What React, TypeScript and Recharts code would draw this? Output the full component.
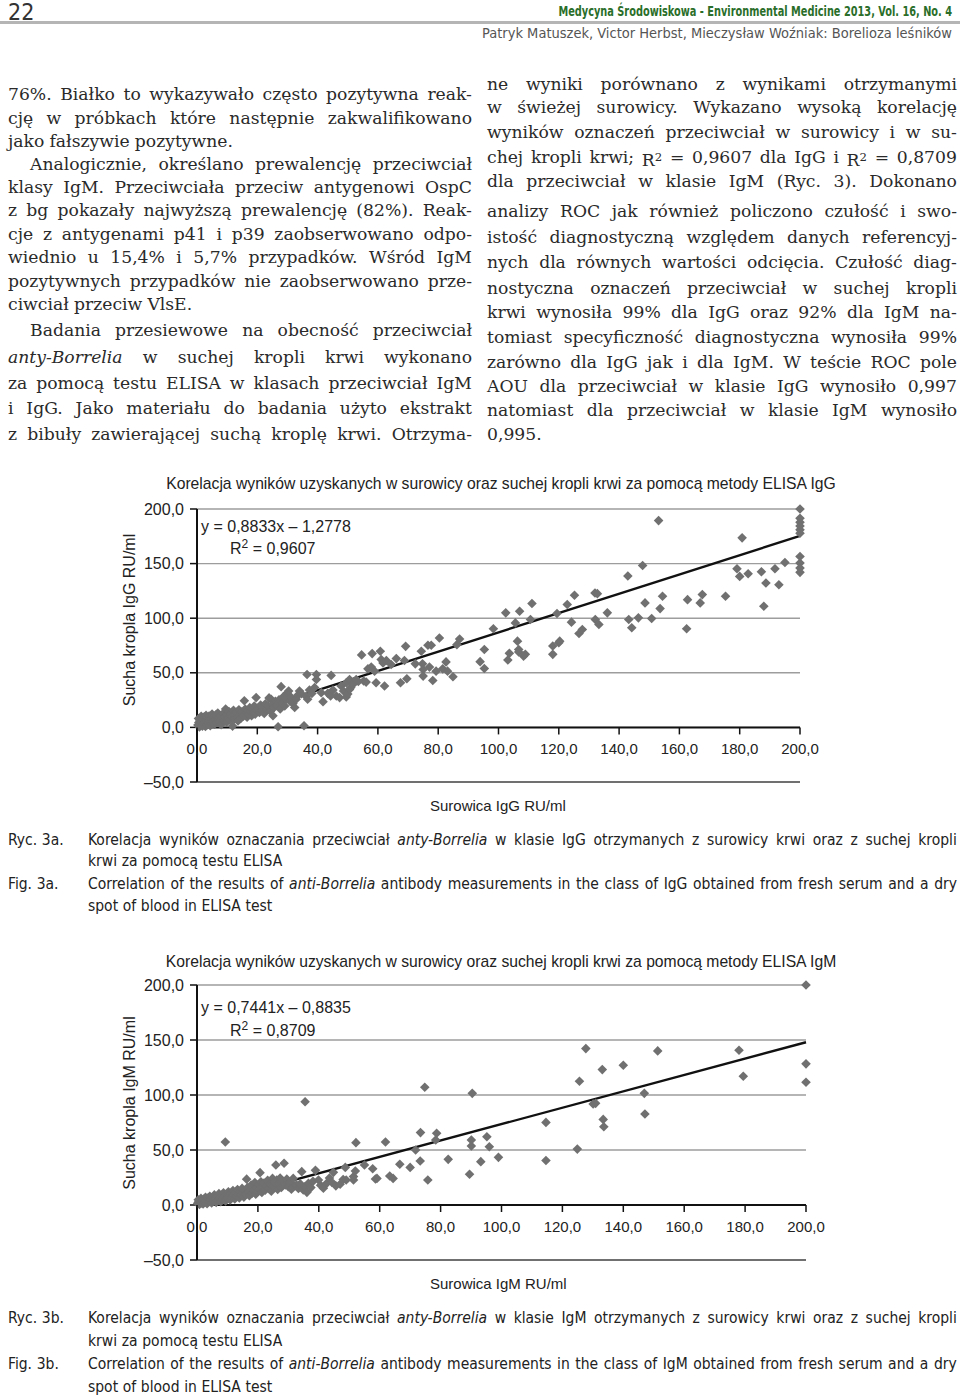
import React from "react";
import {
  ScatterChart,
  Scatter,
  XAxis,
  YAxis,
  CartesianGrid,
  ReferenceLine,
} from "recharts";

const SANS = "'Liberation Sans', Arial, Helvetica, sans-serif";
const NARROW = "'Liberation Sans Narrow', 'DejaVu Sans Condensed', 'Liberation Sans', sans-serif";
const SERIF = "'DejaVu Serif', 'Liberation Serif', serif";

const xTicks = [0, 20, 40, 60, 80, 100, 120, 140, 160, 180, 200];
const yTicks = [-50, 0, 50, 100, 150, 200];

// serum (x) vs dry blood spot (y), IgG
const igGPoints: [number, number][] = [
  [0.3, 2.1], [0.5, 8.2], [0.6, 4.5], [0.8, 0.4], [1.0, 6.3], [1.2, 2.8], [1.4, 10.2], [1.5, 4.9],
  [1.8, 1.2], [2.0, 7.6], [2.2, 3.5], [2.4, 9.8], [2.6, 5.4], [2.8, 0.8], [3.0, 11.0], [3.2, 6.6],
  [3.4, 2.4], [3.6, 8.8], [3.8, 4.2], [4.0, 10.4], [4.2, 6.0], [4.4, 1.5], [4.6, 8.1], [4.8, 3.8],
  [5.0, 12.2], [5.2, 5.6], [5.5, 9.4], [5.8, 2.9], [6.0, 7.2], [6.3, 11.5], [6.6, 4.6], [6.9, 13.2],
  [7.2, 8.3], [7.5, 5.5], [7.8, 10.8], [8.0, 2.5], [8.3, 7.9], [8.6, 12.6], [8.9, 6.1], [9.2, 9.7],
  [9.5, 16.8], [9.8, 4.8], [10.0, 11.9], [10.3, 8.6], [10.6, 14.5], [10.9, 6.8], [11.2, 12.4],
  [11.5, 9.9], [11.8, 1.2], [12.1, 15.6], [12.4, 7.4], [12.7, 11.3], [13.0, 13.9], [13.3, 9.0],
  [13.6, 5.8], [13.9, 16.2], [14.2, 11.7], [14.5, 8.3], [14.8, 14.1], [15.1, 12.5], [15.4, 10.2],
  [15.7, 24.4], [16.0, 16.9], [16.3, 13.3], [16.6, 9.4], [16.9, 15.5], [17.2, 11.8], [17.5, 18.1],
  [17.8, 14.3], [18.1, 10.6], [18.4, 16.4], [18.7, 13.0], [19.0, 19.5], [19.3, 12.1], [19.6, 27.3],
  [19.9, 15.8], [20.3, 17.7], [20.7, 13.6], [21.1, 20.4], [21.5, 15.2], [21.9, 18.9], [22.3, 12.8],
  [22.7, 21.6], [23.1, 16.3], [23.5, 19.8], [23.9, 27.0], [24.3, 14.8], [24.6, 25.8], [25.0, 21.3],
  [25.2, 10.6], [25.6, 18.2], [26.0, 23.9], [26.4, 20.1], [26.9, 0.6], [27.2, 25.3], [27.6, 16.9],
  [27.9, 37.3], [28.3, 22.4], [28.7, 28.2], [29.1, 19.6], [29.5, 26.1], [29.9, 31.5], [30.4, 33.3],
  [30.8, 24.0], [31.3, 27.3], [31.8, 21.8], [32.4, 18.2], [32.9, 25.8], [33.5, 29.6], [34.0, 33.3],
  [34.6, 30.9], [35.5, 1.5], [36.2, 28.4], [36.5, 48.5], [36.7, 25.8], [37.3, 34.2], [38.1, 31.0],
  [39.0, 36.6], [39.6, 48.5], [39.6, 43.9], [41.2, 31.8], [41.8, 23.6], [43.4, 31.2], [44.3, 28.8],
  [44.5, 47.6], [45.1, 34.2], [46.2, 28.8], [47.3, 27.3], [47.8, 37.9], [48.6, 33.3], [49.5, 40.9],
  [49.5, 27.9], [50.0, 30.5], [50.6, 43.9], [50.6, 34.8], [51.0, 36.5], [51.7, 39.4], [52.8, 43.9],
  [53.5, 42.0], [54.6, 66.4], [55.3, 42.5], [56.1, 41.5], [56.7, 53.6], [57.8, 55.2], [58.1, 67.6],
  [58.9, 51.5], [59.4, 40.9], [60.8, 69.7], [61.1, 62.1], [61.7, 59.0], [62.2, 37.9], [62.8, 61.2],
  [64.4, 57.6], [66.1, 63.0], [67.5, 40.9], [68.8, 61.2], [69.2, 74.2], [69.6, 44.5], [72.4, 58.2],
  [74.4, 69.7], [74.8, 58.2], [75.0, 53.0], [75.0, 47.0], [76.6, 75.2], [77.7, 75.2], [77.1, 55.2],
  [78.2, 43.0], [79.3, 51.5], [80.4, 81.8], [81.5, 53.6], [82.6, 60.0], [83.1, 51.5], [84.9, 46.4],
  [86.2, 75.8], [87.1, 80.9], [93.9, 60.2], [95.3, 54.0], [95.3, 71.4], [98.3, 90.3], [102.4, 104.9],
  [103.1, 61.7], [103.6, 67.8], [105.6, 95.7], [106.3, 79.0], [106.7, 71.4], [106.7, 69.0],
  [107.0, 106.4], [108.3, 65.3], [108.9, 66.9], [110.6, 98.8], [111.1, 113.4], [118.0, 74.5],
  [118.0, 66.9], [119.4, 104.3], [120.0, 77.5], [120.3, 79.0], [122.8, 112.5], [124.2, 96.4],
  [125.2, 121.0], [126.7, 86.0], [127.8, 89.7], [132.0, 123.1], [132.8, 122.5], [132.1, 98.8],
  [133.3, 94.2], [136.1, 104.9], [142.9, 138.6], [143.2, 98.8], [144.2, 91.2], [146.4, 100.3],
  [147.8, 148.3], [148.6, 114.0], [150.8, 99.7], [153.1, 189.4], [153.6, 108.8], [154.4, 120.1],
  [162.4, 90.3], [162.7, 117.0], [166.9, 114.0], [167.6, 121.6], [175.3, 120.1], [179.1, 145.3],
  [180.0, 138.3], [180.8, 173.6], [182.8, 140.7], [187.2, 142.6], [188.0, 110.9], [188.7, 132.2],
  [191.7, 145.3], [193.0, 130.7], [195.0, 151.0], [200, 200], [200, 191.5], [200, 187.8],
  [200, 184.5], [200, 180.9], [200, 177.8], [200, 156.5], [200, 150.5], [200, 145.9], [200, 142.0],
];

// serum (x) vs dry blood spot (y), IgM
const igMPoints: [number, number][] = [
  [0.2, 1.5], [0.4, 4.8], [0.6, 2.9], [0.8, 0.5], [1.0, 3.6], [1.3, 6.0], [1.5, 1.8], [1.8, 4.2],
  [2.0, 0.9], [2.3, 5.5], [2.5, 2.6], [2.8, 7.1], [3.0, 3.9], [3.3, 1.2], [3.6, 6.3], [3.9, 3.0],
  [4.2, 8.0], [4.5, 4.6], [4.8, 1.8], [5.1, 6.9], [5.4, 3.5], [5.7, 9.2], [6.0, 5.2], [6.3, 2.4],
  [6.6, 7.8], [6.9, 4.1], [7.2, 10.3], [7.5, 6.0], [7.8, 2.9], [8.1, 8.6], [8.4, 5.1], [8.7, 11.2],
  [9.0, 7.2], [9.3, 57.3], [9.4, 3.6], [9.7, 9.5], [10.0, 6.1], [10.3, 12.0], [10.6, 8.2], [10.9, 4.5],
  [11.2, 10.6], [11.5, 7.0], [11.8, 13.1], [12.1, 9.0], [12.4, 5.4], [12.7, 11.5], [13.0, 7.9],
  [13.3, 14.0], [13.6, 10.1], [13.9, 6.4], [14.2, 12.3], [14.5, 8.8], [14.8, 15.1], [15.1, 11.0],
  [15.4, 7.2], [15.7, 13.4], [16.0, 9.6], [16.3, 23.5], [16.6, 15.8], [16.9, 12.0], [17.2, 8.4],
  [17.5, 14.6], [17.8, 18.2], [18.1, 10.8], [18.4, 16.5], [18.7, 13.2], [19.0, 20.5], [19.3, 9.8],
  [19.6, 15.4], [19.9, 12.1], [20.2, 18.6], [20.5, 14.2], [20.7, 29.4], [21.0, 21.2], [21.3, 11.4],
  [21.6, 16.8], [22.0, 19.9], [22.4, 13.5], [22.8, 17.6], [23.2, 22.5], [23.6, 15.0], [24.0, 19.1],
  [24.4, 12.6], [24.8, 24.2], [25.1, 16.9], [25.5, 21.0], [25.9, 36.4], [26.2, 22.7], [26.5, 14.1],
  [26.9, 19.3], [27.3, 24.5], [27.7, 16.0], [28.1, 21.6], [28.6, 37.9], [29.0, 18.2], [29.5, 23.6],
  [30.0, 16.7], [30.5, 20.4], [31.0, 14.4], [31.6, 24.2], [32.2, 17.5], [32.7, 18.2], [33.3, 15.0],
  [33.9, 19.3], [34.4, 30.3], [34.9, 13.6], [35.5, 16.7], [35.5, 93.9], [36.1, 11.5], [36.6, 19.7],
  [37.4, 15.8], [38.1, 21.5], [38.9, 31.5], [39.9, 22.7], [40.6, 18.0], [41.5, 15.2], [42.6, 19.7],
  [43.5, 24.6], [44.3, 20.6], [44.8, 29.7], [45.6, 17.4], [47.0, 18.8], [48.0, 23.2], [48.7, 34.2],
  [49.0, 22.7], [51.4, 22.7], [51.4, 25.8], [52.0, 30.9], [52.2, 56.7], [55.0, 36.4], [57.7, 33.0],
  [58.6, 23.6], [59.1, 24.2], [61.9, 57.3], [63.3, 26.4], [64.4, 24.2], [66.6, 37.0], [70.0, 34.2],
  [71.8, 50.0], [73.3, 40.0], [73.4, 65.8], [74.8, 107.0], [75.8, 22.7], [78.4, 59.1], [78.7, 65.2],
  [82.5, 41.5], [89.5, 27.9], [90.1, 59.1], [90.1, 53.6], [90.4, 101.5], [93.2, 39.4], [95.2, 62.1],
  [96.0, 53.0], [99.0, 43.3], [114.6, 75.1], [114.6, 40.4], [124.9, 50.8], [125.6, 112.5],
  [127.7, 142.2], [130.1, 91.8], [130.9, 92.4], [133.1, 123.1], [133.4, 77.8], [133.6, 71.1],
  [140.0, 127.1], [146.9, 101.5], [147.1, 82.7], [151.3, 140.1], [178.0, 140.7], [179.4, 117.0],
  [200, 200], [200, 128.3], [200, 111.6],
];

// trend line end points, from the printed equations
const trendIgG = [{ x: 0, y: -1.28 }, { x: 200, y: 175.38 }];
const trendIgM = [{ x: 0, y: -0.88 }, { x: 200, y: 147.94 }];

const fmt = (v: number) => {
  const s = Math.abs(v).toFixed(1).replace(".", ",");
  return v < 0 ? "\u2013" + s : s;
};

function Diamond(props: any) {
  const { cx, cy } = props;
  const r = 4.8;
  return (
    <path
      d={`M${cx},${cy - r}L${cx + r},${cy}L${cx},${cy + r}L${cx - r},${cy}Z`}
      fill="#707070"
    />
  );
}

function XTick(props: any) {
  const { x, y, payload, shift } = props;
  const y0 = y - shift;
  return (
    <g>
      <line x1={x} x2={x} y1={y0} y2={y0 + 7} stroke="#111" strokeWidth={1.5} />
      <text x={x} y={y0 + 27} textAnchor="middle" fontSize={15} fontFamily={SANS} fill="#222">
        {fmt(payload.value)}
      </text>
    </g>
  );
}

function Correlation({
  top,
  height,
  marginTop,
  marginRight,
  plotH,
  points,
  trend,
}: {
  top: number;
  height: number;
  marginTop: number;
  marginRight: number;
  plotH: number;
  points: [number, number][];
  trend: { x: number; y: number }[];
}) {
  const data = points.map(([x, y]) => ({ x, y }));
  const shift = (plotH * 50) / 250;
  return (
    <div style={{ position: "absolute", left: 0, top }}>
      <ScatterChart
        width={960}
        height={height}
        margin={{ top: marginTop, right: marginRight, bottom: 0, left: 0 }}
      >
        <CartesianGrid vertical={false} stroke="#9d9d9d" strokeWidth={1.4} />
        <XAxis
          type="number"
          dataKey="x"
          domain={[0, 200]}
          ticks={xTicks}
          interval={0}
          height={height - marginTop - plotH}
          axisLine={false}
          tickLine={false}
          tickSize={0}
          tickMargin={0}
          tick={(p: any) => <XTick {...p} shift={shift} />}
        />
        <YAxis
          type="number"
          dataKey="y"
          domain={[-50, 200]}
          ticks={yTicks}
          interval={0}
          width={197}
          axisLine={{ stroke: "#111", strokeWidth: 2 }}
          tickLine={{ stroke: "#111", strokeWidth: 1.5 }}
          tickSize={7}
          tickMargin={6}
          tickFormatter={fmt}
          tick={{ fontSize: 16, fill: "#222", fontFamily: SANS }}
        />
        <ReferenceLine y={-50} stroke="#707070" strokeWidth={2} />
        <ReferenceLine y={0} stroke="#111" strokeWidth={2} />
        <Scatter data={data} shape={Diamond} isAnimationActive={false} />
        <ReferenceLine segment={trend} stroke="#111" strokeWidth={2.4} />
      </ScatterChart>
    </div>
  );
}

function At({
  x,
  y,
  children,
  style,
  anchor = "left",
  sx = 1,
}: {
  x: number;
  y: number;
  children: React.ReactNode;
  style?: React.CSSProperties;
  anchor?: "left" | "center" | "right";
  sx?: number;
}) {
  const tx = anchor === "center" ? "-50%" : anchor === "right" ? "-100%" : "0";
  return (
    <div
      style={{
        position: "absolute",
        left: x,
        top: y,
        lineHeight: 1.15,
        transformOrigin: anchor === "right" ? "right center" : anchor === "center" ? "center" : "left center",
        transform: `translate(${tx}, -50%) scaleX(${sx})`,
        whiteSpace: "nowrap",
        ...style,
      }}
    >
      {children}
    </div>
  );
}

// a word: "_word" is italic, "R^2" has a superscript
function Word({ w }: { w: string }) {
  if (w.startsWith("_")) return <i>{w.slice(1)}</i>;
  if (w.includes("^")) {
    const [b, s] = w.split("^");
    return (
      <span>
        {b}
        <span style={{ fontSize: "0.68em", verticalAlign: "0.45em" }}>{s}</span>
      </span>
    );
  }
  return <span>{w}</span>;
}

// one typeset line, spread to the full width unless it ends a paragraph
function TypeLine({
  text,
  left,
  width,
  y,
  last,
  style,
}: {
  text: string;
  left: number;
  width: number;
  y: number;
  last?: boolean;
  style: React.CSSProperties;
}) {
  const words = text.split(" ");
  return (
    <div
      style={{
        position: "absolute",
        left,
        width,
        top: y - 12,
        height: 24,
        lineHeight: "24px",
        display: "flex",
        justifyContent: last ? "flex-start" : "space-between",
        columnGap: last ? "0.3em" : 0,
        whiteSpace: "nowrap",
        ...style,
      }}
    >
      {words.map((w, i) => (
        <Word key={i} w={w} />
      ))}
    </div>
  );
}

type Line = { y: number; t: string; indent?: boolean; last?: boolean };

const leftLines: Line[] = [
  { y: 94, t: "76%. Białko to wykazywało często pozytywna reak-" },
  { y: 118, t: "cję w próbkach które następnie zakwalifikowano" },
  { y: 141, t: "jako fałszywie pozytywne.", last: true },
  { y: 164, t: "Analogicznie, określano prewalencję przeciwciał", indent: true },
  { y: 187, t: "klasy IgM. Przeciwciała przeciw antygenowi OspC" },
  { y: 210, t: "z bg pokazały najwyższą prewalencję (82%). Reak-" },
  { y: 234, t: "cje z antygenami p41 i p39 zaobserwowano odpo-" },
  { y: 257, t: "wiednio u 15,4% i 5,7% przypadków. Wśród IgM" },
  { y: 281, t: "pozytywnych przypadków nie zaobserwowano prze-" },
  { y: 304, t: "ciwciał przeciw VlsE.", last: true },
  { y: 330, t: "Badania przesiewowe na obecność przeciwciał", indent: true },
  { y: 357, t: "_anty-Borrelia w suchej kropli krwi wykonano" },
  { y: 383, t: "za pomocą testu ELISA w klasach przeciwciał IgM" },
  { y: 408, t: "i IgG. Jako materiału do badania użyto ekstrakt" },
  { y: 434, t: "z bibuły zawierającej suchą kroplę krwi. Otrzyma-" },
];

const rightLines: Line[] = [
  { y: 84, t: "ne wyniki porównano z wynikami otrzymanymi" },
  { y: 107, t: "w świeżej surowicy. Wykazano wysoką korelację" },
  { y: 132, t: "wyników oznaczeń przeciwciał w surowicy i w su-" },
  { y: 157, t: "chej kropli krwi; R^2 = 0,9607 dla IgG i R^2 = 0,8709" },
  { y: 181, t: "dla przeciwciał w klasie IgM (Ryc. 3). Dokonano" },
  { y: 211, t: "analizy ROC jak również policzono czułość i swo-" },
  { y: 237, t: "istość diagnostyczną względem danych referencyj-" },
  { y: 262, t: "nych dla równych wartości odcięcia. Czułość diag-" },
  { y: 288, t: "nostyczna oznaczeń przeciwciał w suchej kropli" },
  { y: 312, t: "krwi wynosiła 99% dla IgG oraz 92% dla IgM na-" },
  { y: 337, t: "tomiast specyficzność diagnostyczna wynosiła 99%" },
  { y: 362, t: "zarówno dla IgG jak i dla IgM. W teście ROC pole" },
  { y: 386, t: "AOU dla przeciwciał w klasie IgG wynosiło 0,997" },
  { y: 410, t: "natomiast dla przeciwciał w klasie IgM wynosiło" },
  { y: 434, t: "0,995.", last: true },
];

const bodyStyle: React.CSSProperties = { fontFamily: SERIF, fontSize: 17.2, color: "#2a2a2a" };

function Column({ lines, left, width }: { lines: Line[]; left: number; width: number }) {
  return (
    <>
      {lines.map((l, i) => {
        const ind = l.indent ? 22 : 0;
        return (
          <TypeLine
            key={i}
            text={l.t}
            left={left + ind}
            width={width - ind}
            y={l.y}
            last={l.last}
            style={bodyStyle}
          />
        );
      })}
    </>
  );
}

const captionStyle: React.CSSProperties = { fontFamily: NARROW, fontSize: 15.5, color: "#222" };

function Caption({ y, label, lines }: { y: number[]; label: string; lines: string[] }) {
  return (
    <>
      <TypeLine text={label} left={8} width={70} y={y[0]} last style={captionStyle} />
      <TypeLine text={lines[0]} left={88} width={869} y={y[0]} style={captionStyle} />
      <TypeLine text={lines[1]} left={88} width={869} y={y[1]} last style={captionStyle} />
    </>
  );
}

const chartText: React.CSSProperties = { fontFamily: SANS, color: "#222" };

export default function App() {
  return (
    <div style={{ position: "absolute", left: 0, top: 0, width: 960, height: 1397, background: "#fff" }}>
      {/* running header */}
      <At x={8} y={12} style={{ fontFamily: NARROW, fontSize: 23, color: "#333", lineHeight: 1 }}>22</At>
      <At x={952} y={11} anchor="right" sx={0.75} style={{ fontFamily: NARROW, fontSize: 14.5, fontWeight: 700, color: "#2a6e2a" }}>
        Medycyna Środowiskowa - Environmental Medicine 2013, Vol. 16, No. 4
      </At>
      <div style={{ position: "absolute", left: 0, top: 21, width: 960, height: 3, background: "#b5b5b5" }} />
      <At x={952} y={33} anchor="right" style={{ fontFamily: NARROW, fontSize: 14.5, color: "#555" }}>
        Patryk Matuszek, Victor Herbst, Mieczysław Woźniak: Borelioza leśników
      </At>

      <Column lines={leftLines} left={8} width={464} />
      <Column lines={rightLines} left={487} width={470} />

      {/* Fig. 3a */}
      <At x={501} y={484} anchor="center" style={{ ...chartText, fontSize: 15.7 }}>
        Korelacja wyników uzyskanych w surowicy oraz suchej kropli krwi za pomocą metody ELISA IgG
      </At>
      <Correlation top={470} height={345} marginTop={39} marginRight={160} plotH={273} points={igGPoints} trend={trendIgG} />
      <At x={201} y={527} style={{ ...chartText, fontSize: 16 }}>y = 0,8833x – 1,2778</At>
      <At x={230} y={548} style={{ ...chartText, fontSize: 16 }}>
        R<span style={{ fontSize: 12, verticalAlign: 6 }}>2</span> = 0,9607
      </At>
      <div
        style={{
          position: "absolute",
          left: 130,
          top: 620,
          transform: "translate(-50%, -50%) rotate(-90deg)",
          whiteSpace: "nowrap",
          ...chartText,
          fontSize: 16,
        }}
      >
        Sucha kropla IgG RU/ml
      </div>
      <At x={430} y={806} style={{ ...chartText, fontSize: 15 }}>Surowica IgG RU/ml</At>
      <Caption
        y={[840, 861]}
        label="Ryc. 3a."
        lines={[
          "Korelacja wyników oznaczania przeciwciał _anty-Borrelia w klasie IgG otrzymanych z surowicy krwi oraz z suchej kropli",
          "krwi za pomocą testu ELISA",
        ]}
      />
      <Caption
        y={[884, 906]}
        label="Fig. 3a."
        lines={[
          "Correlation of the results of _anti-Borrelia antibody measurements in the class of IgG obtained from fresh serum and a dry",
          "spot of blood in ELISA test",
        ]}
      />

      {/* Fig. 3b */}
      <At x={501} y={962} anchor="center" style={{ ...chartText, fontSize: 15.7 }}>
        Korelacja wyników uzyskanych w surowicy oraz suchej kropli krwi za pomocą metody ELISA IgM
      </At>
      <Correlation top={950} height={345} marginTop={35} marginRight={154} plotH={275} points={igMPoints} trend={trendIgM} />
      <At x={201} y={1008} style={{ ...chartText, fontSize: 16 }}>y = 0,7441x – 0,8835</At>
      <At x={230} y={1030} style={{ ...chartText, fontSize: 16 }}>
        R<span style={{ fontSize: 12, verticalAlign: 6 }}>2</span> = 0,8709
      </At>
      <div
        style={{
          position: "absolute",
          left: 130,
          top: 1103,
          transform: "translate(-50%, -50%) rotate(-90deg)",
          whiteSpace: "nowrap",
          ...chartText,
          fontSize: 16,
        }}
      >
        Sucha kropla IgM RU/ml
      </div>
      <At x={430} y={1284} style={{ ...chartText, fontSize: 15 }}>Surowica IgM RU/ml</At>
      <Caption
        y={[1318, 1341]}
        label="Ryc. 3b."
        lines={[
          "Korelacja wyników oznaczania przeciwciał _anty-Borrelia w klasie IgM otrzymanych z surowicy krwi oraz z suchej kropli",
          "krwi za pomocą testu ELISA",
        ]}
      />
      <Caption
        y={[1364, 1387]}
        label="Fig. 3b."
        lines={[
          "Correlation of the results of _anti-Borrelia antibody measurements in the class of IgM obtained from fresh serum and a dry",
          "spot of blood in ELISA test",
        ]}
      />
    </div>
  );
}
